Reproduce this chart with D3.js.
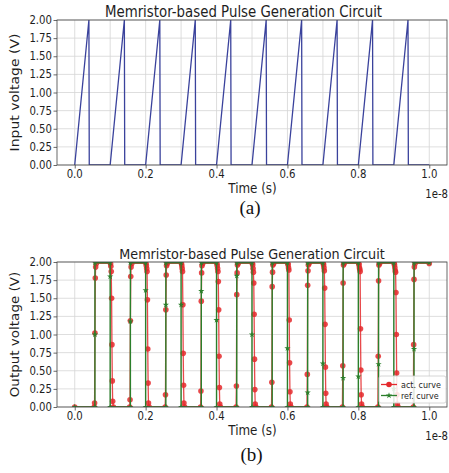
<!DOCTYPE html>
<html>
<head>
<meta charset="utf-8">
<script src="https://cdn.jsdelivr.net/npm/d3@7"></script>
<style>
  html, body { margin: 0; padding: 0; background: #ffffff; }
  svg { display: block; }
</style>
</head>
<body>
<div id="chart"></div>
<script>
// ---------------- data ----------------
const chartTitle = "Memristor-based Pulse Generation Circuit";
const xLabel = "Time (s)";
const xOffsetText = "1e-8";
const topYLabel = "Input voltage (V)";
const bottomYLabel = "Output voltage (V)";
const captions = ["(a)", "(b)"];

const xTickValues = [0.0, 0.2, 0.4, 0.6, 0.8, 1.0];
const xGridValues = [0.0, 0.1, 0.2, 0.3, 0.4, 0.5, 0.6, 0.7, 0.8, 0.9, 1.0];
const yTickValues = [0.00, 0.25, 0.50, 0.75, 1.00, 1.25, 1.50, 1.75, 2.00];

// input voltage (time in units of 1e-8 s)
const inputTime = [0.00, 0.04, 0.041, 0.10, 0.14, 0.141, 0.20, 0.24, 0.241, 0.30, 0.34, 0.341,
                   0.40, 0.44, 0.441, 0.50, 0.54, 0.541, 0.60, 0.64, 0.641, 0.70, 0.74, 0.741,
                   0.80, 0.84, 0.841, 0.90, 0.94, 0.941, 1.00];
const inputVoltage = [0, 2, 0, 0, 2, 0, 0, 2, 0, 0, 2, 0,
                      0, 2, 0, 0, 2, 0, 0, 2, 0, 0, 2, 0,
                      0, 2, 0, 0, 2, 0, 0];

// actual output curve
const actTime = [0.000, 0.055, 0.056, 0.057, 0.058, 0.059, 0.061,
  0.101, 0.102, 0.103, 0.104, 0.105, 0.106, 0.107, 0.109,
  0.155, 0.156, 0.157, 0.158, 0.159, 0.161,
  0.201, 0.202, 0.203, 0.204, 0.205, 0.206, 0.207, 0.208, 0.210,
  0.255, 0.256, 0.257, 0.258, 0.259, 0.261,
  0.301, 0.302, 0.303, 0.304, 0.305, 0.306, 0.307, 0.308, 0.310,
  0.355, 0.356, 0.357, 0.358, 0.359, 0.361,
  0.401, 0.402, 0.403, 0.404, 0.405, 0.406, 0.407, 0.408, 0.409, 0.411,
  0.455, 0.456, 0.457, 0.458, 0.459, 0.461,
  0.501, 0.502, 0.503, 0.504, 0.505, 0.506, 0.507, 0.508, 0.509, 0.511,
  0.555, 0.556, 0.557, 0.558, 0.559, 0.561,
  0.601, 0.602, 0.603, 0.604, 0.605, 0.606, 0.607, 0.608, 0.610,
  0.655, 0.656, 0.657, 0.658, 0.659, 0.661,
  0.701, 0.702, 0.703, 0.704, 0.705, 0.706, 0.707, 0.708, 0.709, 0.711,
  0.755, 0.756, 0.757, 0.758, 0.760,
  0.801, 0.802, 0.803, 0.804, 0.805, 0.806, 0.807, 0.808, 0.809, 0.811,
  0.855, 0.856, 0.857, 0.858, 0.860,
  0.901, 0.902, 0.903, 0.904, 0.905, 0.906, 0.907, 0.908, 0.909, 0.910, 0.912,
  0.955, 0.956, 0.957, 0.958, 0.960,
  1.000];
const actVoltage = [0.00, 0.00, 0.055, 1.02, 1.78, 1.93, 1.98,
  1.98, 1.94, 1.87, 1.50, 0.86, 0.36, 0.08, 0.00,
  0.00, 0.10, 1.19, 1.80, 1.93, 1.98,
  1.98, 1.95, 1.91, 1.87, 1.48, 0.80, 0.33, 0.055, 0.00,
  0.00, 0.17, 1.34, 1.82, 1.95, 1.98,
  1.98, 1.95, 1.91, 1.87, 1.41, 0.74, 0.30, 0.055, 0.00,
  0.00, 0.22, 1.46, 1.85, 1.95, 1.98,
  1.98, 1.95, 1.91, 1.87, 1.73, 1.34, 0.70, 0.27, 0.04, 0.00,
  0.00, 0.29, 1.55, 1.85, 1.96, 1.98,
  1.98, 1.96, 1.91, 1.86, 1.71, 1.28, 0.66, 0.24, 0.04, 0.00,
  0.00, 0.34, 1.66, 1.86, 1.96, 1.98,
  1.98, 1.96, 1.92, 1.89, 1.20, 0.61, 0.21, 0.04, 0.00,
  0.00, 0.45, 1.68, 1.88, 1.96, 1.98,
  1.98, 1.96, 1.92, 1.88, 1.64, 1.14, 0.55, 0.19, 0.04, 0.00,
  0.00, 0.57, 1.71, 1.96, 1.98,
  1.98, 1.96, 1.92, 1.90, 1.87, 1.08, 0.51, 0.17, 0.04, 0.00,
  0.00, 0.70, 1.74, 1.96, 1.98,
  1.98, 1.96, 1.92, 1.88, 1.86, 1.58, 1.00, 0.47, 0.17, 0.04, 0.00,
  0.00, 0.86, 1.76, 1.93, 1.98,
  1.98];

// reference output curve
const refTime = [0.000, 0.057, 0.057, 0.057, 0.100, 0.100, 0.100,
  0.157, 0.157, 0.157, 0.200, 0.200, 0.200,
  0.257, 0.257, 0.257, 0.300, 0.300, 0.300,
  0.357, 0.357, 0.357, 0.400, 0.400, 0.400,
  0.457, 0.457, 0.457, 0.500, 0.500, 0.500,
  0.557, 0.557, 0.600, 0.600, 0.600,
  0.657, 0.657, 0.657, 0.700, 0.700, 0.700,
  0.757, 0.757, 0.757, 0.800, 0.800, 0.800,
  0.857, 0.857, 0.857, 0.900, 0.900, 0.900,
  0.957, 0.957, 0.957, 1.000];
const refVoltage = [0.00, 0.00, 1.00, 1.99, 1.99, 1.80, 0.00,
  0.00, 1.18, 1.99, 1.99, 1.61, 0.00,
  0.00, 1.41, 1.99, 1.99, 1.41, 0.00,
  0.00, 1.60, 1.99, 1.99, 1.20, 0.00,
  0.00, 1.81, 1.99, 1.99, 1.00, 0.00,
  0.00, 1.99, 1.99, 0.81, 0.00,
  0.00, 0.20, 1.99, 1.99, 0.60, 0.00,
  0.00, 0.40, 1.99, 1.99, 0.42, 0.00,
  0.00, 0.59, 1.99, 1.99, 0.25, 0.00,
  0.00, 0.80, 1.99, 1.99];

const legendLabels = ["act. curve", "ref. curve"];

// ---------------- drawing ----------------
const W = 449, H = 473;
const SX = 0.89;               // horizontal squeeze of the source picture
const FONT = "DejaVu Sans, Liberation Sans, sans-serif";
const TXT = "#1e1e1e";
const RED = "#e4292c", GREEN = "#2b7f2b", BLUE = "#3a429c";

const svg = d3.select("#chart").append("svg")
  .attr("width", W).attr("height", H)
  .style("background", "#fff");

function addText(g, x, y, str, size, anchor, opts = {}) {
  const sx = opts.sx || SX;
  let tr = `translate(${x},${y}) scale(${sx},1)`;
  if (opts.rotate) tr += ` rotate(${opts.rotate})`;
  return g.append("text")
    .attr("transform", tr)
    .attr("text-anchor", anchor)
    .attr("font-family", opts.family || FONT)
    .attr("font-size", size)
    .attr("fill", opts.fill || TXT)
    .text(str);
}

function panel(cfg) {
  const g = svg.append("g");
  const x = d3.scaleLinear().domain([-0.05, 1.05]).range([57, 447]);
  const y = d3.scaleLinear().domain([0, 2]).range([cfg.bottom, cfg.top]);
  const clipId = "clip" + cfg.id;
  svg.append("clipPath").attr("id", clipId).append("rect")
    .attr("x", 57).attr("y", cfg.top).attr("width", 390).attr("height", cfg.bottom - cfg.top);

  // grid
  g.append("g").selectAll("line").data(xGridValues).join("line")
    .attr("x1", d => x(d)).attr("x2", d => x(d))
    .attr("y1", cfg.top).attr("y2", cfg.bottom)
    .attr("stroke", "#d6d6d6").attr("stroke-width", 0.8);
  g.append("g").selectAll("line").data(yTickValues).join("line")
    .attr("y1", d => y(d)).attr("y2", d => y(d))
    .attr("x1", 57).attr("x2", 447)
    .attr("stroke", "#d6d6d6").attr("stroke-width", 0.8);

  // axes using d3 axis for tick marks
  const yAxis = d3.axisLeft(y).tickValues(yTickValues).tickSize(3.5).tickFormat("");
  g.append("g").attr("transform", "translate(57,0)").call(yAxis)
    .call(s => s.select(".domain").remove())
    .call(s => s.selectAll("line").attr("stroke", "#444").attr("stroke-width", 0.8));
  const xAxis = d3.axisBottom(x).tickValues(xTickValues).tickSize(3.5).tickFormat("");
  g.append("g").attr("transform", `translate(0,${cfg.bottom})`).call(xAxis)
    .call(s => s.select(".domain").remove())
    .call(s => s.selectAll("line").attr("stroke", "#444").attr("stroke-width", 0.8));

  // tick labels
  const fy = d3.format(".2f"), fx = d3.format(".1f");
  yTickValues.forEach(v => addText(g, 52, y(v) + 4.1, fy(v), 11.4, "end"));
  xTickValues.forEach(v => addText(g, x(v), cfg.bottom + 13, fx(v), 11.4, "middle"));

  // data
  cfg.draw(g.append("g").attr("clip-path", `url(#${clipId})`), x, y);

  // frame
  g.append("rect").attr("x", 57).attr("y", cfg.top).attr("width", 390)
    .attr("height", cfg.bottom - cfg.top)
    .attr("fill", "none").attr("stroke", "#444").attr("stroke-width", 0.8);

  // labels
  addText(g, cfg.titleX, cfg.top - 3.5, chartTitle, cfg.titleSize, "middle", { sx: cfg.titleSX });
  addText(g, 18.5, (cfg.top + cfg.bottom) / 2, cfg.yLabel, cfg.yLabelSize, "middle", { rotate: -90 });
  addText(g, 252.5, cfg.bottom + 27.5, xLabel, 13.4, "middle");
  addText(g, 448, cfg.bottom + 32.5, xOffsetText, 11.4, "end");
  addText(g, cfg.capX, cfg.capY, cfg.caption, 19, "middle", { sx: 1, family: "Liberation Serif, DejaVu Serif, serif", fill: "#111" });
  return { g, x, y };
}

// top panel
panel({
  id: "a", top: 20, bottom: 165, yLabel: topYLabel, yLabelSize: 14,
  titleX: 243.5, titleSize: 15, titleSX: 0.89, caption: captions[0], capX: 250, capY: 214,
  draw: (g, x, y) => {
    const pts = inputTime.map((t, i) => [t, inputVoltage[i]]);
    g.append("path").datum(pts)
      .attr("d", d3.line().x(d => x(d[0])).y(d => y(d[1])))
      .attr("fill", "none").attr("stroke", BLUE).attr("stroke-width", 1.3)
      .attr("stroke-linejoin", "round");
  }
});

// bottom panel
panel({
  id: "b", top: 262, bottom: 407, yLabel: bottomYLabel, yLabelSize: 13.5,
  titleX: 252, titleSize: 14.7, titleSX: 0.87, caption: captions[1], capX: 251.5, capY: 461,
  draw: (g, x, y) => {
    const line = d3.line().x(d => x(d[0])).y(d => y(d[1]));
    const act = actTime.map((t, i) => [t, actVoltage[i]]);
    const ref = refTime.map((t, i) => [t, refVoltage[i]]);
    g.append("path").datum(act).attr("d", line)
      .attr("fill", "none").attr("stroke", RED).attr("stroke-width", 1.3)
      .attr("stroke-opacity", 0.85);
    g.append("g").selectAll("circle").data(act).join("circle")
      .attr("cx", d => x(d[0])).attr("cy", d => y(d[1])).attr("r", 2.8)
      .attr("fill", RED).attr("fill-opacity", 0.85);
    g.append("path").datum(ref).attr("d", line)
      .attr("fill", "none").attr("stroke", GREEN).attr("stroke-width", 1.4);
    const star = d3.symbol().type(d3.symbolStar).size(12);
    g.append("g").selectAll("path").data(ref).join("path")
      .attr("transform", d => `translate(${x(d[0])},${y(d[1])})`)
      .attr("d", star).attr("fill", GREEN);
  }
});

// legend
const lg = svg.append("g");
lg.append("rect").attr("x", 379).attr("y", 376).attr("width", 67).attr("height", 27)
  .attr("rx", 2).attr("fill", "#fff").attr("fill-opacity", 0.85)
  .attr("stroke", "#cccccc").attr("stroke-width", 0.8);
[[RED, 384.5], [GREEN, 395.5]].forEach(([c, yy], i) => {
  lg.append("line").attr("x1", 381).attr("x2", 397).attr("y1", yy).attr("y2", yy)
    .attr("stroke", c).attr("stroke-width", 1.3);
  if (i === 0) {
    lg.append("circle").attr("cx", 389).attr("cy", yy).attr("r", 2.8).attr("fill", c);
  } else {
    lg.append("path").attr("transform", `translate(389,${yy})`)
      .attr("d", d3.symbol().type(d3.symbolStar).size(12)).attr("fill", c);
  }
  addText(lg, 401, yy + 3.2, legendLabels[i], 9, "start");
});
</script>
</body>
</html>
